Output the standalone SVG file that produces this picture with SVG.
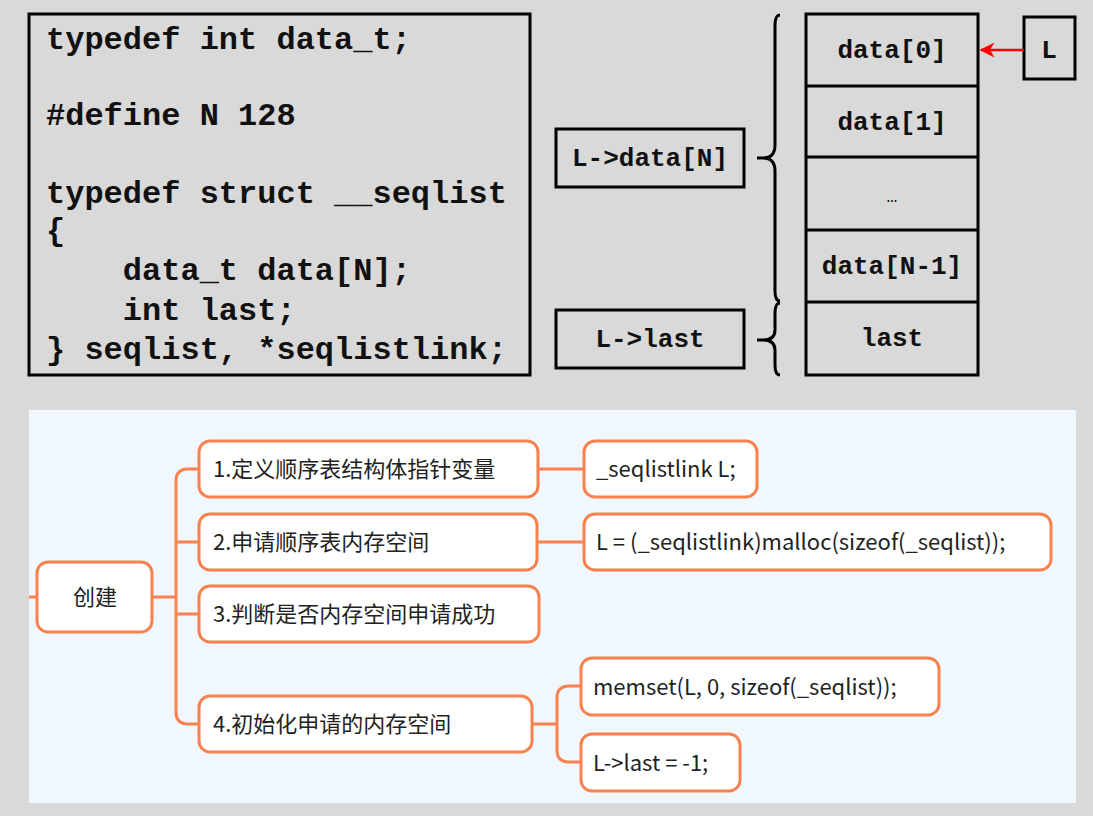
<svg xmlns="http://www.w3.org/2000/svg" width="1093" height="816" viewBox="0 0 1093 816">
<style>
.code{font-family:"Liberation Mono","Courier New",monospace;font-weight:bold;font-size:32px;fill:#111}
.cell{font-family:"Liberation Mono","Courier New",monospace;font-weight:bold;font-size:26px;fill:#111;text-anchor:middle}
.bx{fill:none;stroke:#000;stroke-width:3}
.nd{fill:#fff;stroke:#f9804f;stroke-width:3}
.ln{fill:none;stroke:#f9804f;stroke-width:3}
.t{font-family:"Noto Sans CJK SC","Noto Sans",sans-serif;font-size:22px;fill:#222}
</style>
<defs><marker id="ar" viewBox="0 0 10 10" refX="9" refY="5" markerWidth="6" markerHeight="6" orient="auto"><path d="M0,0 L10,5 L0,10 L3,5 z" fill="#f00"/></marker></defs>
<rect width="1093" height="816" fill="#d9d9d9"/>
<g id="code">
<rect class="bx" x="29" y="14" width="501" height="361"/>
<text class="code" x="46" y="49">typedef int data_t;</text>
<text class="code" x="46" y="125">#define N 128</text>
<text class="code" x="46" y="203">typedef struct __seqlist</text>
<text class="code" x="46" y="240">{</text>
<text class="code" x="46" y="280" xml:space="preserve">    data_t data[N];</text>
<text class="code" x="46" y="320" xml:space="preserve">    int last;</text>
<text class="code" x="46" y="359">} seqlist, *seqlistlink;</text>
</g>
<g id="cells">
<rect class="bx" x="806" y="14" width="172" height="361"/>
<line class="bx" x1="806" y1="86" x2="978" y2="86"/>
<line class="bx" x1="806" y1="157" x2="978" y2="157"/>
<line class="bx" x1="806" y1="230" x2="978" y2="230"/>
<line class="bx" x1="806" y1="302" x2="978" y2="302"/>
<text class="cell" x="892" y="58">data[0]</text>
<text class="cell" x="892" y="130">data[1]</text>
<text class="cell" x="892" y="202" style="font-size:18px;font-weight:normal">…</text>
<text class="cell" x="892" y="274">data[N-1]</text>
<text class="cell" x="892" y="346">last</text>
</g>
<g id="Lnode"><rect class="bx" x="1024" y="17" width="51" height="62"/><text class="cell" x="1049" y="58">L</text></g>
<g id="ldata"><rect class="bx" x="556" y="129" width="188" height="58"/><text class="cell" x="650" y="166">L-&gt;data[N]</text></g>
<g id="llast"><rect class="bx" x="556" y="310" width="188" height="58"/><text class="cell" x="650" y="347">L-&gt;last</text></g>
<g id="braces" fill="none" stroke="#000" stroke-width="3">
<path d="M780,15 Q775,15 775,25 L775,145 Q775,158 763,158 L757,158 M763,158 Q775,158 775,171 L775,291 Q775,301 780,301"/>
<path d="M780,303 Q775,303 775,313 L775,330 Q775,340 763,340 L757,340 M763,340 Q775,340 775,350 L775,365 Q775,375 780,375"/>
</g>
<line x1="1024" y1="50" x2="981" y2="50" stroke="#f00" stroke-width="2.5" marker-end="url(#ar)"/>
<rect x="29" y="410" width="1047" height="393" fill="#f0f7fd"/>
<g id="connectors" class="ln">
<path class="ln" d="M29,597 H37 M152,597 H176 M199,469 H188 Q176,469 176,481 V712 Q176,724 188,724 H199 M176,542 H199 M176,614 H199 M538,469 H584 M537,542 H584 M532,724 H557 M581,686 H569 Q557,686 557,698 V750 Q557,762 569,762 H581"/>
</g>
<g id="n0"><rect class="nd" x="37" y="562" width="115" height="70" rx="11"/><text class="t" x="95" y="605" text-anchor="middle">创建</text></g>
<g id="n1"><rect class="nd" x="199" y="441" width="339" height="56" rx="11"/><text class="t" x="213" y="477">1.定义顺序表结构体指针变量</text></g>
<g id="n2"><rect class="nd" x="199" y="514" width="338" height="56" rx="11"/><text class="t" x="213" y="550">2.申请顺序表内存空间</text></g>
<g id="n3"><rect class="nd" x="199" y="586" width="340" height="56" rx="11"/><text class="t" x="213" y="622">3.判断是否内存空间申请成功</text></g>
<g id="n4"><rect class="nd" x="199" y="696" width="333" height="56" rx="11"/><text class="t" x="213" y="732">4.初始化申请的内存空间</text></g>
<g id="c1"><rect class="nd" x="584" y="441" width="173" height="56" rx="11"/><text class="t" x="596" y="477">_seqlistlink L;</text></g>
<g id="c2"><rect class="nd" x="584" y="514" width="467" height="56" rx="11"/><text class="t" x="596" y="550">L = (_seqlistlink)malloc(sizeof(_seqlist));</text></g>
<g id="c3"><rect class="nd" x="581" y="658" width="358" height="57" rx="11"/><text class="t" x="593" y="695">memset(L, 0, sizeof(_seqlist));</text></g>
<g id="c4"><rect class="nd" x="581" y="734" width="159" height="57" rx="11"/><text class="t" x="593" y="771">L-&gt;last = -1;</text></g>
</svg>
